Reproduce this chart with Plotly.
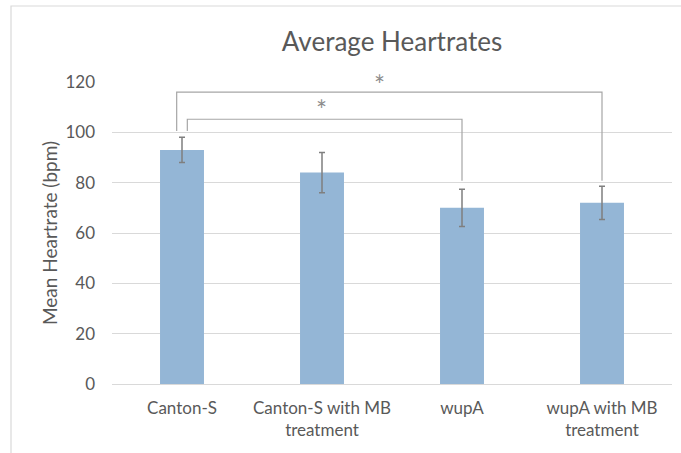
import plotly.graph_objects as go

categories = ["Canton-S", "Canton-S with MB<br>treatment", "wupA", "wupA with MB<br>treatment"]
mean_bpm = [93, 84, 70, 72]
err_bpm = [5, 8, 7.4, 6.6]

# significance comparisons
cmp_left = [0, 0]
cmp_right = [3, 2]
cmp_height = [116, 105.2]
cmp_left_end = [100.5, 100.5]
cmp_right_end = [80.8, 80.8]
cmp_left_offset = [-0.038, 0.038]
cmp_label = ["*", "*"]
cmp_label_x = [1.414, 0.993]
cmp_label_y = [118.8, 108.7]

y_ticks = [0, 20, 40, 60, 80, 100, 120]
y_max = 120

FONT = "Lato"
TXT = "#595959"

W, H = 681, 453
L, T = 112, 82
PW, PH = 560, 302

fig = go.Figure()
fig.add_trace(go.Bar(
    x=list(range(len(categories))), y=mean_bpm,
    marker=dict(color="#94b6d6", line=dict(width=0)),
    error_y=dict(type="data", array=err_bpm, visible=True, color="#7f7f7f", thickness=1.5, width=3),
    width=0.314,
))

shapes = []
annotations = []
for l, r, h, le, re_, off, lab, lx, ly in zip(cmp_left, cmp_right, cmp_height, cmp_left_end,
                                              cmp_right_end, cmp_left_offset, cmp_label,
                                              cmp_label_x, cmp_label_y):
    xl = l + off
    path = f"M {xl} {le} L {xl} {h} L {r} {h} L {r} {re_}"
    shapes.append(dict(type="path", path=path, xref="x", yref="y",
                       line=dict(color="#a6a6a6", width=1.2)))
    annotations.append(dict(x=lx, y=ly / y_max, xref="x", yref="paper", text=lab,
                            showarrow=False, font=dict(family=FONT, size=26, color="#8c8c8c"),
                            yanchor="middle"))

# chart area border (Excel-like frame) at screen x=11, y=6
shapes.append(dict(type="rect", xref="paper", yref="paper",
                   x0=(11 - L) / PW, x1=1.2, y0=-0.3, y1=(T + PH - 6) / PH,
                   line=dict(color="#d9d9d9", width=1.2), fillcolor="rgba(0,0,0,0)", layer="below"))

fig.update_layout(
    width=W, height=H,
    margin=dict(l=L, r=W - L - PW, t=T, b=H - T - PH),
    paper_bgcolor="white", plot_bgcolor="white",
    showlegend=False,
    title=dict(text="Average Heartrates", x=0.5, xref="paper", xanchor="center",
               y=1 - 42 / H, yanchor="middle",
               font=dict(family=FONT, size=26, color=TXT)),
    xaxis=dict(tickmode="array", tickvals=list(range(len(categories))), ticktext=categories,
               range=[-0.5, len(categories) - 0.5], showgrid=False, showline=False, zeroline=False,
               ticks="", automargin=False, ticklabelstandoff=12,
               tickfont=dict(family=FONT, size=17, color=TXT)),
    yaxis=dict(range=[0, y_max], tickvals=y_ticks, showgrid=True, gridcolor="#d9d9d9", gridwidth=1,
               zeroline=True, zerolinecolor="#d9d9d9", zerolinewidth=1.2, showline=False, ticks="",
               ticklabelstandoff=16, automargin=False,
               tickfont=dict(family=FONT, size=17, color=TXT),
               title=dict(text="Mean Heartrate (bpm)", font=dict(family=FONT, size=19, color=TXT),
                          standoff=2)),
    shapes=shapes, annotations=annotations,
)

fig.write_html("out.html", config={"displayModeBar": False},
               post_script="document.body.style.margin='0';")
